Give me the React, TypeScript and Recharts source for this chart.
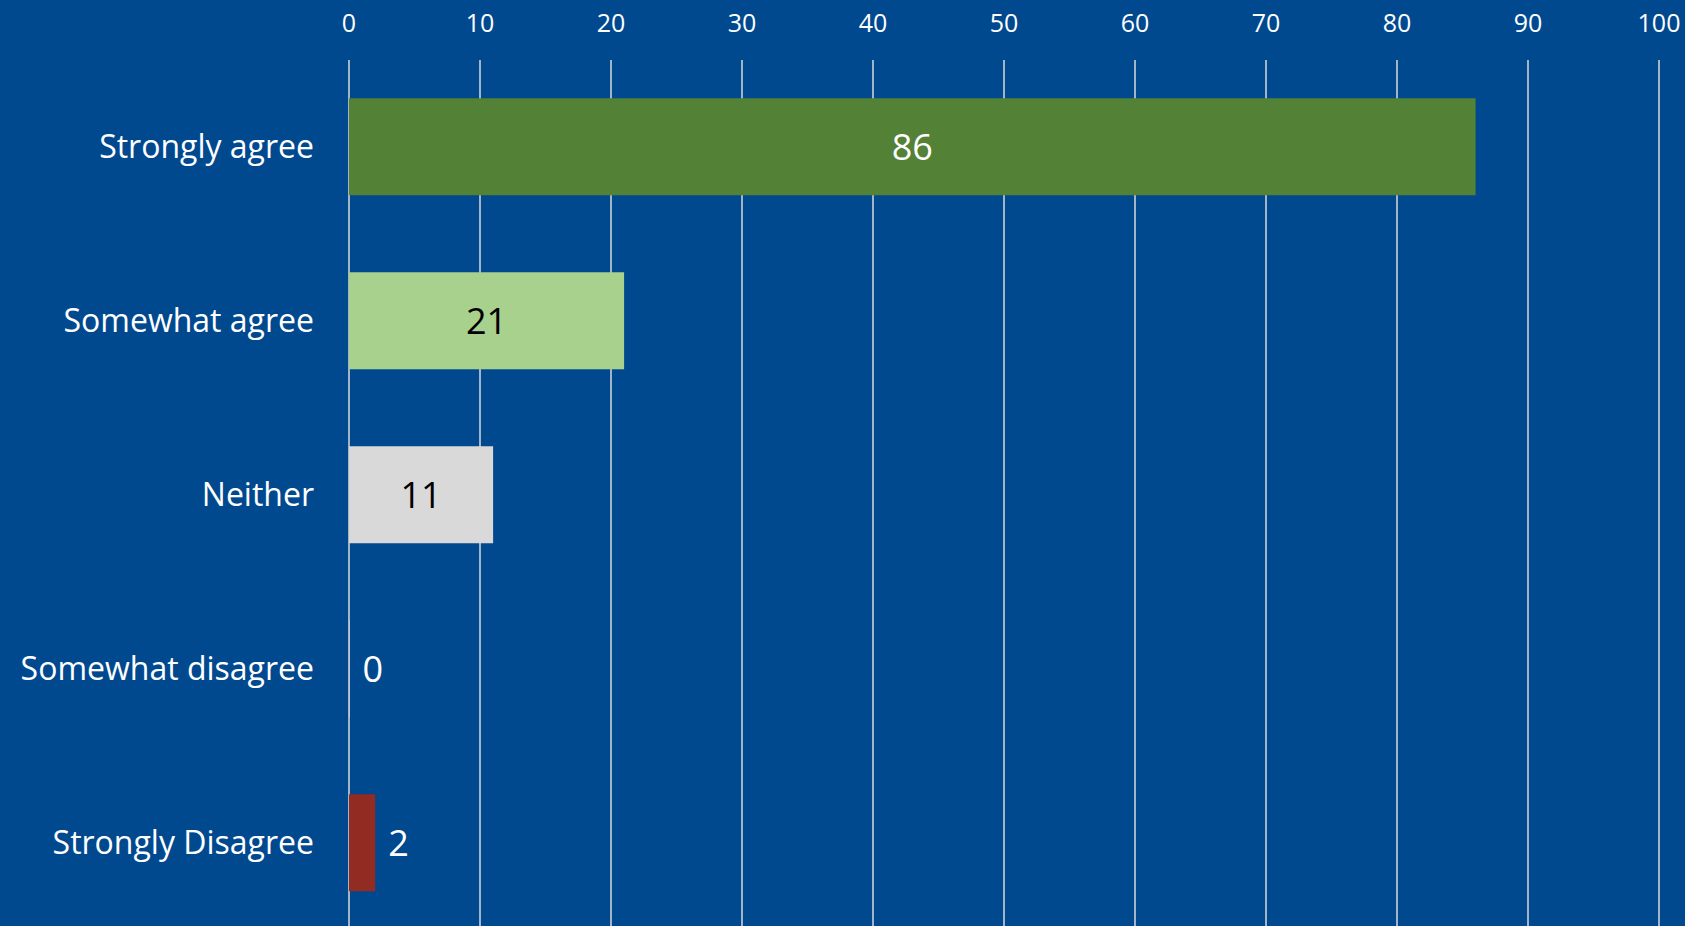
import React from 'react';
import { BarChart, Bar, XAxis, YAxis, CartesianGrid, Cell, LabelList } from 'recharts';

const CATEGORIES = ['Strongly agree', 'Somewhat agree', 'Neither', 'Somewhat disagree', 'Strongly Disagree'];
const RESPONSES = [86, 21, 11, 0, 2];
const X_TICKS = [0, 10, 20, 30, 40, 50, 60, 70, 80, 90, 100];

const BAR_COLORS = ['#538135', '#A9D18E', '#D9D9D9', '#D9D9D9', '#922B21'];
const LABEL_COLORS = ['#ffffff', '#000000', '#000000', '#ffffff', '#ffffff'];

const FONT = '"Open Sans", sans-serif';
const BG = '#00498F';

const data = CATEGORIES.map((name, i) => ({ name, value: RESPONSES[i] }));

// big bars get the number centred inside, small ones just past the end
const renderLabel = (props: any) => {
  const { x, y, width, height, value, index } = props;
  const inside = value >= 5;
  return (
    <text
      x={inside ? x + width / 2 : x + width + 13}
      y={y + height / 2}
      textAnchor={inside ? 'middle' : 'start'}
      dominantBaseline="central"
      fill={LABEL_COLORS[index]}
      fontSize={36}
      fontFamily={FONT}
    >
      {value}
    </text>
  );
};

export default function App() {
  return (
    <div style={{ position: 'fixed', left: 0, top: 0, width: 1685, height: 926, background: BG, overflow: 'hidden' }}>
      <BarChart
        width={1685}
        height={930}
        data={data}
        layout="vertical"
        margin={{ top: 0, right: 26, bottom: 0, left: 0 }}
        barCategoryGap="22%"
      >
        <CartesianGrid horizontal={false} stroke="#D9D9D9" strokeWidth={1.5} />
        <XAxis
          type="number"
          orientation="top"
          domain={[0, 100]}
          ticks={X_TICKS}
          height={60}
          axisLine={false}
          tickLine={false}
          tickSize={0}
          tickMargin={28}
          interval={0}
          tick={{ fill: '#ffffff', fontSize: 25, fontFamily: FONT }}
        />
        <YAxis
          type="category"
          dataKey="name"
          width={349}
          axisLine={false}
          tickLine={false}
          tickSize={0}
          tickMargin={35}
          interval={0}
          tick={{ fill: '#ffffff', fontSize: 32, fontFamily: FONT }}
        />
        <Bar dataKey="value" isAnimationActive={false} minPointSize={0.5}>
          {data.map((d, i) => (
            <Cell key={d.name} fill={BAR_COLORS[i]} />
          ))}
          <LabelList dataKey="value" content={renderLabel} />
        </Bar>
      </BarChart>
    </div>
  );
}
